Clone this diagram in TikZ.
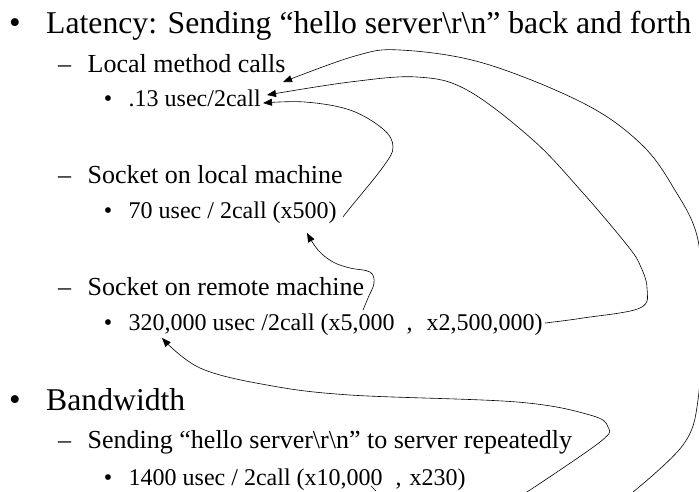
\documentclass[tikz,border=0pt]{standalone}
\usepackage{fontspec}
\setmainfont{Liberation Serif}
\usetikzlibrary{arrows.meta}
\begin{document}
\begin{tikzpicture}[x=1pt,y=-1pt,
  lone/.style={anchor=base west,inner sep=0pt,font=\fontsize{31.7}{38}\selectfont},
  ltwo/.style={anchor=base west,inner sep=0pt,font=\fontsize{26}{31}\selectfont},
  lthree/.style={anchor=base west,inner sep=0pt,font=\fontsize{24}{29}\selectfont},
  bigdot/.style={anchor=base,inner sep=0pt,font=\fontsize{33}{38}\selectfont},
  smalldot/.style={anchor=base,inner sep=0pt,font=\fontsize{24}{29}\selectfont},
  link/.style={line width=0.6pt,-{Triangle[length=9pt,width=7pt]}},
  plain/.style={line width=0.6pt},
]
\path[use as bounding box] (0,0) rectangle (699,491);

% latency section
\node[bigdot] (m1) at (15,33) {•};
\node[lone] (lat) at (46,33) {Latency: Sending “hello server\textbackslash r\textbackslash n” back and forth};
\node[ltwo] (d1) at (58,72) {–};
\node[ltwo] (lmc) at (87.5,72) {Local method calls};
\node[smalldot] (m2) at (108,106) {•};
\node[lthree] (t13) at (128.5,106) {.13 usec/2call};
\node[ltwo] (d2) at (58,183) {–};
\node[ltwo] (slm) at (87.5,183) {Socket on local machine};
\node[smalldot] (m3) at (108,218) {•};
\node[lthree] (t70) at (128.5,218) {70 usec / 2call (x500)};
\node[ltwo] (d3) at (58,295) {–};
\node[ltwo] (srm) at (87.5,295) {Socket on remote machine};
\node[smalldot] (m4) at (108,330) {•};
\node[lthree] (t320) at (128.5,330) {320,000 usec /2call (x5,000\hspace{12pt},\hspace{14pt}x2,500,000)};

% bandwidth section
\node[bigdot] (m5) at (15,410) {•};
\node[lone] (bw) at (46,410) {Bandwidth};
\node[ltwo] (d4) at (58,448) {–};
\node[ltwo] (shs) at (87.5,448) {Sending “hello server\textbackslash r\textbackslash n” to server repeatedly};
\node[smalldot] (m6) at (108,485) {•};
\node[lthree] (t1400) at (128.5,485) {1400 usec / 2call (x10,000\hspace{13pt},\hspace{2pt} x230)};

% ends of the curves
\coordinate (aend) at (633,492);
\coordinate (atip) at (283,82);
\coordinate (bstart) at (545,323);
\coordinate (btip) at (267,95);
\coordinate (cstart) at (343,217);
\coordinate (ctip) at (263,103);
\coordinate (estart) at (363,310);
\coordinate (etip) at (307,233);
\coordinate (dend) at (527,492);
\coordinate (dtip) at (162,338);

% outer curve: from the bottom edge round to the method-call heading
\draw[link] plot[smooth,tension=0.6] coordinates {(aend) (683,445) (698,400) (701,320) (698,240)
  (673,187) (640,143) (583,103) (483,63) (400,50) (355,56) (atip)};
% from the remote result round to the method-call figure
\draw[link] plot[smooth,tension=0.6] coordinates {(bstart) (583,318) (640,308) (647,288) (640,265)
  (627,245) (583,193) (533,140) (467,90) (417,77) (350,82) (btip)};
% from the local socket result up to the method-call figure
\draw[link] plot[smooth,tension=0.6] coordinates {(cstart) (350,208) (383,167) (393,147) (383,129)
  (350,110) (305,102) (ctip)};
% from the remote figure up to the local socket result
\draw[link] plot[smooth,tension=0.6] coordinates {(estart) (368,298) (374,283) (370,272) (350,268)
  (333,262) (318,250) (etip)};
% from the bottom edge up to the remote result
\draw[link] plot[smooth,tension=0.6] coordinates {(dend) (600,442) (608,427) (590,415) (517,402)
  (350,395) (267,385) (200,368) (dtip)};
% short stroke under the bandwidth figure
\draw[plain] (371,486) -- (376,491);
\end{tikzpicture}
\end{document}
